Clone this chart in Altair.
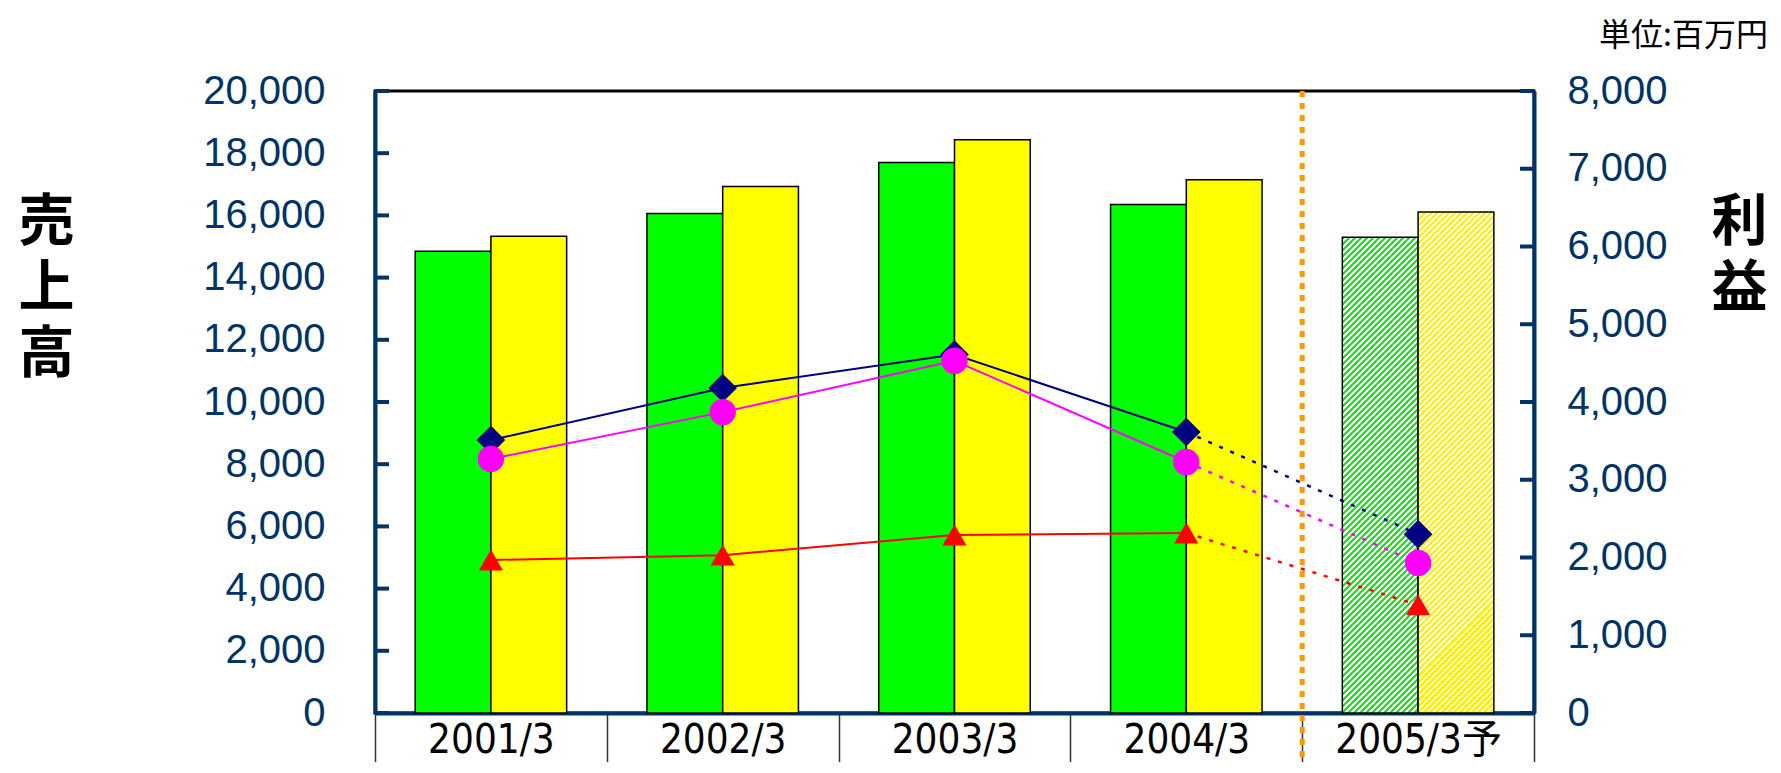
import altair as alt
import pandas as pd

# ---------------- data ----------------
categories = ["2001/3", "2002/3", "2003/3", "2004/3", "2005/3予"]
sales_green = [14850, 16060, 17700, 16350, 15300]
sales_yellow = [15330, 16930, 18430, 17150, 16110]
profit_navy = [3510, 4180, 4610, 3614, 2300]
profit_magenta = [3267, 3870, 4530, 3228, 1930]
profit_red = [1968, 2030, 2290, 2315, 1390]
series_names = ["営業利益", "経常利益", "当期純利益"]
bar_kinds = ["売上高1", "売上高2"]
left_ticks = [0, 2000, 4000, 6000, 8000, 10000, 12000, 14000, 16000, 18000, 20000]
right_ticks = [0, 1000, 2000, 3000, 4000, 5000, 6000, 7000, 8000]
left_title = ["売", "上", "高"]
right_title = ["利", "益"]
unit_label = "単位:百万円"
forecast_cat = "2005/3予"

# ---------------- layout / style ----------------
W, H = 1159, 622
NAVY_AXIS = "#003366"
OFF_PAD = 0.53
LEFT_MAX, RIGHT_MAX = 20000, 8000

def stripes(color, w, h, period=6.0, frac=0.55):
    r = h / w
    k = (1 + r) / (1 + r * r)
    n = max(1, int(round((w + h) / period)))
    stops = []
    for i in range(n):
        a = i / n
        b = (i + frac) / n
        c = min((i + 1) / n, 1.0)
        stops += [{"offset": a, "color": color}, {"offset": b, "color": color},
                  {"offset": b, "color": "#ffffff"}, {"offset": c, "color": "#ffffff"}]
    return {"gradient": "linear", "x1": 0, "y1": 0, "x2": k, "y2": k * r, "stops": stops}

bar_w = (W / len(categories)) / (2 + 2 * OFF_PAD)

x_scale = alt.Scale(domain=categories, paddingInner=0, paddingOuter=0)
xoff_scale = alt.Scale(domain=bar_kinds, paddingInner=0, paddingOuter=OFF_PAD)
yl_scale = alt.Scale(domain=[0, LEFT_MAX], nice=False, zero=True)
yr_scale = alt.Scale(domain=[0, RIGHT_MAX], nice=False, zero=True)

x_axis = alt.Axis(
    title=None, labelAngle=0, ticks=True, tickBand="extent", tickSize=60,
    tickColor="#333333", tickWidth=1.5, domainColor=NAVY_AXIS, domainWidth=4,
    labelFont="Liberation Sans Narrow, DejaVu Sans Condensed, Noto Sans CJK JP, sans-serif",
    labelFontSize=40, labelColor="black", labelBaseline="alphabetic", labelPadding=-21,
)

def X(**kw):
    return alt.X("cat:N", sort=categories, scale=x_scale, axis=x_axis, **kw)

# ---------------- sales (left axis) ----------------
n_solid = 4
bars_df = pd.DataFrame({
    "cat": categories[:n_solid] * 2,
    "kind": [bar_kinds[0]] * n_solid + [bar_kinds[1]] * n_solid,
    "sales": sales_green[:n_solid] + sales_yellow[:n_solid],
})

title_common = dict(
    titleAngle=0, titleY=104, titleAlign="center", titleBaseline="top",
    titleFont="Noto Sans CJK JP", titleFontSize=56, titleFontWeight="bold",
    titleColor="black", titleLineHeight=66,
)
label_common = dict(
    format=",d", ticks=False, labelFont="Liberation Sans, Arial, sans-serif",
    labelFontSize=40, labelColor=NAVY_AXIS, domainColor=NAVY_AXIS, domainWidth=4, grid=False,
)

bars = alt.Chart(bars_df).mark_bar(stroke="black", strokeWidth=1.5).encode(
    x=X(),
    xOffset=alt.XOffset("kind:N", scale=xoff_scale),
    y=alt.Y("sales:Q", scale=yl_scale, axis=alt.Axis(
        orient="left", values=left_ticks, labelPadding=50,
        title=left_title, titleX=-329, **title_common, **label_common,
    )),
    color=alt.Color("kind:N", scale=alt.Scale(domain=bar_kinds, range=["#00FF00", "#FFFF00"]), legend=None),
)

hatched = []
for kind, vals, col in [(bar_kinds[0], sales_green, "#22E022"), (bar_kinds[1], sales_yellow, "#FFF200")]:
    v = vals[-1]
    h = v / LEFT_MAX * H
    df = pd.DataFrame({"cat": [forecast_cat], "kind": [kind], "sales": [v]})
    hatched.append(
        alt.Chart(df).mark_bar(fill=stripes(col, bar_w, h), stroke="black", strokeWidth=1.5).encode(
            x=X(),
            xOffset=alt.XOffset("kind:N", scale=xoff_scale),
            y=alt.Y("sales:Q", scale=yl_scale, axis=None),
        )
    )

lt_df = pd.DataFrame({"sales": left_ticks})
left_tick_marks = alt.Chart(lt_df).mark_rule(color=NAVY_AXIS, strokeWidth=4).encode(
    y=alt.Y("sales:Q", scale=yl_scale, axis=None),
    x=alt.value(0), x2=alt.value(14),
)

orange = alt.Chart(pd.DataFrame({"cat": [forecast_cat]})).mark_rule(
    color="#FF9900", strokeWidth=5, strokeDash=[6, 6]
).encode(
    x=X(bandPosition=0),
    y=alt.value(0), y2=alt.value(H + 60),
)

unit = alt.Chart(pd.DataFrame({"t": [unit_label]})).mark_text(
    align="right", baseline="alphabetic", font="Noto Sans CJK JP", fontSize=32, color="black"
).encode(text="t:N", x=alt.value(1393), y=alt.value(-45))

# ---------------- profit (right axis) ----------------
prof = {series_names[0]: profit_navy, series_names[1]: profit_magenta, series_names[2]: profit_red}
solid_rows, dot_rows, pt_rows = [], [], []
for s, vals in prof.items():
    for i, c in enumerate(categories):
        pt_rows.append({"cat": c, "series": s, "profit": vals[i]})
        if i < n_solid:
            solid_rows.append({"cat": c, "series": s, "profit": vals[i]})
        if i >= n_solid - 1:
            dot_rows.append({"cat": c, "series": s, "profit": vals[i]})

color_enc = alt.Color("series:N", scale=alt.Scale(domain=series_names, range=["#000080", "#FF00FF", "#FF0000"]), legend=None)

yr_axis = alt.Axis(
    orient="right", values=right_ticks, labelPadding=33,
    title=right_title, titleX=205, **title_common, **label_common,
)

line_solid = alt.Chart(pd.DataFrame(solid_rows)).mark_line(strokeWidth=2).encode(
    x=X(), y=alt.Y("profit:Q", scale=yr_scale, axis=yr_axis), color=color_enc,
)
line_dot = alt.Chart(pd.DataFrame(dot_rows)).mark_line(strokeWidth=2.5, strokeDash=[4, 8]).encode(
    x=X(), y=alt.Y("profit:Q", scale=yr_scale, axis=None), color=color_enc,
)
points = alt.Chart(pd.DataFrame(pt_rows)).mark_point(filled=True, opacity=1).encode(
    x=X(), y=alt.Y("profit:Q", scale=yr_scale, axis=None), color=color_enc,
    shape=alt.Shape("series:N", scale=alt.Scale(domain=series_names, range=["diamond", "circle", "triangle-up"]), legend=None),
    size=alt.Size("series:N", scale=alt.Scale(domain=series_names, range=[820, 580, 640]), legend=None),
)
rt_df = pd.DataFrame({"profit": right_ticks})
right_tick_marks = alt.Chart(rt_df).mark_rule(color=NAVY_AXIS, strokeWidth=4).encode(
    y=alt.Y("profit:Q", scale=yr_scale, axis=None),
    x=alt.value(W - 14), x2=alt.value(W),
)

chart = alt.layer(
    bars, *hatched, left_tick_marks, orange,
    line_solid, line_dot, points, right_tick_marks, unit,
).resolve_scale(
    y="independent", color="independent", shape="independent", size="independent"
).properties(
    width=W, height=H,
    padding={"left": 367, "top": 83, "right": 237, "bottom": 49},
    autosize=alt.AutoSizeParams(type="none"),
    background="white",
).configure_view(stroke="black", strokeWidth=3)

chart.save("out.html", embed_options={"renderer": "svg", "actions": False})
